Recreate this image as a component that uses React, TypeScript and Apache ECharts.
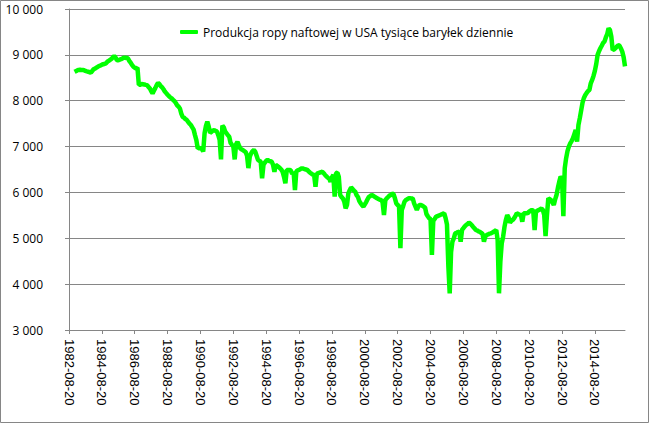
import React, { useEffect, useRef } from "react";
import * as echarts from "echarts";

const seriesName = "Produkcja ropy naftowej w USA tysiące baryłek dziennie";

// Monthly categories starting 1982-08-20 (407 months, through 2016-06-20)
const startYear = 1982;
const startMonth = 8;
const categoryCount = 407;
const categories: string[] = [];
for (let i = 0; i < categoryCount; i++) {
  const m0 = startMonth - 1 + i;
  const y = startYear + Math.floor(m0 / 12);
  const m = (m0 % 12) + 1;
  categories.push(`${y}-${m < 10 ? "0" + m : m}-20`);
}

// Values, one per month (Aug..Jul rows)
const production: (number | null)[] = [
  null, null, null, null, 8630, 8645, 8660, 8670, 8675, 8670, 8672, 8665,
  8650, 8640, 8633, 8620, 8610, 8650, 8690, 8700, 8720, 8740, 8755, 8770,
  8785, 8795, 8805, 8815, 8850, 8870, 8890, 8910, 8945, 8975, 8940, 8880,
  8880, 8895, 8905, 8920, 8935, 8940, 8930, 8925, 8870, 8830, 8780, 8742,
  8720, 8705, 8720, 8345, 8350, 8365, 8360, 8355, 8345, 8340, 8300, 8270,
  8210, 8160, 8220, 8275, 8340, 8390, 8360, 8320, 8290, 8250, 8200, 8165,
  8130, 8100, 8070, 8050, 8020, 7990, 7950, 7900, 7870, 7830, 7720, 7650,
  7630, 7600, 7580, 7540, 7500, 7470, 7420, 7370, 7250, 7140, 6960, 6970,
  6960, 6950, 6890, 7290, 7450, 7545, 7440, 7300, 7320, 7350, 7360, 7340,
  7330, 7250, 7143, 6720, 7460, 7420, 7330, 7290, 7250, 7215, 7080, 7040,
  7000, 6720, 7050, 7105, 7030, 6960, 6940, 6920, 6900, 6880, 6800, 6530,
  6780, 6850, 6900, 6925, 6890, 6800, 6710, 6690, 6670, 6310, 6600, 6650,
  6690, 6707, 6690, 6680, 6670, 6600, 6450, 6600, 6580, 6560, 6530, 6500,
  6450, 6340, 6200, 6490, 6490, 6490, 6480, 6400, 6450, 6050, 6460, 6480,
  6490, 6510, 6525, 6520, 6510, 6500, 6490, 6460, 6430, 6410, 6390, 6380,
  6125, 6410, 6420, 6430, 6440, 6452, 6420, 6380, 6350, 6320, 6300, 6234,
  6330, 6380, 5910, 6420, 6430, 6343, 5945, 5900, 5872, 5800, 5654, 5726,
  5980, 6050, 6110, 6080, 6040, 6016, 5940, 5900, 5810, 5763, 5720, 5690,
  5740, 5790, 5850, 5907, 5920, 5944, 5930, 5910, 5890, 5872, 5855, 5840,
  5835, 5780, 5508, 5835, 5870, 5900, 5930, 5944, 5975, 5960, 5872, 5760,
  5726, 5700, 4782, 5617, 5700, 5800, 5835, 5850, 5872, 5872, 5870, 5870,
  5760, 5690, 5617, 5690, 5726, 5726, 5710, 5690, 5670, 5530, 5480, 5436,
  5420, 4636, 5380, 5420, 5471, 5480, 5495, 5508, 5520, 5535, 5545, 5440,
  5300, 4400, 3800, 4700, 4930, 5000, 5108, 5120, 5135, 5144, 4926, 5181,
  5220, 5260, 5290, 5310, 5340, 5320, 5290, 5253, 5220, 5181, 5170, 5150,
  5140, 5120, 5094, 4926, 5040, 5072, 5085, 5100, 5108, 5120, 5144, 5160,
  5181, 4963, 3800, 4500, 4891, 5035, 5250, 5399, 5508, 5450, 5340, 5380,
  5400, 5436, 5490, 5545, 5530, 5515, 5508, 5362, 5545, 5545, 5545, 5550,
  5581, 5600, 5617, 5600, 5181, 5581, 5600, 5617, 5630, 5650, 5620, 5508,
  5050, 5500, 5872, 5850, 5835, 5780, 5726, 5850, 5944, 6100, 6234, 6343,
  6308, 5480, 6526, 6744, 6900, 7000, 7070, 7120, 7180, 7270, 7361, 7107,
  7470, 7620, 7790, 7960, 8060, 8125, 8170, 8210, 8234, 8380, 8452, 8540,
  8650, 8800, 9000, 9080, 9143, 9200, 9260, 9288, 9380, 9450, 9579, 9542,
  9400, 9106, 9120, 9143, 9180, 9210, 9200, 9140, 9070, 8950, 8750,
];

const yMin = 3000;
const yMax = 10000;
const yStep = 1000;

const formatThousands = (v: number) =>
  String(v).replace(/\B(?=(\d{3})+(?!\d))/g, " ");

export default function App() {
  const ref = useRef<HTMLDivElement>(null);

  useEffect(() => {
    if (!ref.current) return;
    const chart = echarts.init(ref.current, undefined, { renderer: "svg" });
    const gray = "#868686";
    chart.setOption({
      animation: false,
      backgroundColor: "#ffffff",
      grid: { left: 69, right: 25, top: 9, bottom: 94, containLabel: false },
      legend: {
        data: [seriesName],
        left: 175,
        top: 21,
        itemWidth: 18,
        itemHeight: 4,
        icon: "roundRect",
        textStyle: { fontFamily: "Open Sans", fontSize: 12, color: "#000" },
      },
      xAxis: {
        type: "category",
        data: categories,
        boundaryGap: false,
        axisLine: { lineStyle: { color: gray, width: 1 } },
        axisTick: { interval: 23, length: 4, lineStyle: { color: gray } },
        axisLabel: {
          interval: 23,
          rotate: -90,
          margin: 9,
          fontFamily: "Liberation Sans",
          fontSize: 13,
          color: "#000",
        },
        splitLine: { show: false },
      },
      yAxis: {
        type: "value",
        min: yMin,
        max: yMax,
        interval: yStep,
        axisLine: { show: true, lineStyle: { color: gray } },
        axisTick: { show: true, length: 4, lineStyle: { color: gray } },
        axisLabel: {
          formatter: (v: number) => formatThousands(v),
          margin: 26,
          fontFamily: "Open Sans",
          fontSize: 12,
          color: "#000",
        },
        splitLine: { lineStyle: { color: gray, width: 1 } },
      },
      series: [
        {
          name: seriesName,
          type: "line",
          data: production,
          showSymbol: false,
          symbol: "none",
          lineStyle: { color: "#00ff00", width: 4.5 },
          itemStyle: { color: "#00ff00" },
        },
      ],
      graphic: [
        {
          type: "rect",
          silent: true,
          shape: { x: 0.5, y: 0.5, width: 648, height: 422 },
          style: { fill: "none", stroke: gray, lineWidth: 1 },
        },
      ],
    });
    return () => chart.dispose();
  }, []);

  return (
    <div
      ref={ref}
      style={{ position: "fixed", left: 0, top: 0, width: 650, height: 424 }}
    />
  );
}
